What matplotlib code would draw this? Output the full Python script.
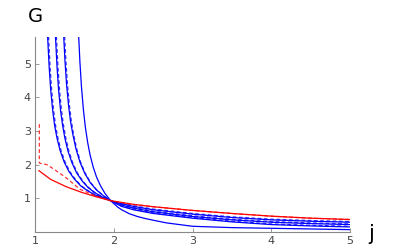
import matplotlib
matplotlib.use("Agg")
import matplotlib.pyplot as plt

# ---- data ----
red_x = [1.05, 1.2, 1.4, 1.6, 1.8, 1.96, 2.25, 2.5, 3.0, 3.5, 4.0, 4.5, 5.0]
red_y = [1.82, 1.56, 1.34, 1.17, 1.03, 0.93, 0.82, 0.75, 0.64, 0.55, 0.47, 0.41, 0.37]

red_dash_x = [1.055, 1.055, 1.08, 1.15, 1.25, 1.40, 1.57, 1.74, 1.90, 1.96, 2.25, 2.5, 3.0, 3.5, 4.0, 4.5, 5.0]
red_dash_y = [3.20, 2.05, 2.03, 2.00, 1.85, 1.60, 1.27, 1.10, 0.97, 0.93, 0.82, 0.75, 0.64, 0.55, 0.47, 0.41, 0.37]

blue1_x = [1.16, 1.18, 1.20, 1.225, 1.25, 1.28, 1.32, 1.37, 1.43, 1.50, 1.58, 1.67, 1.77, 1.87, 1.96,
           2.1, 2.25, 2.5, 3.0, 3.5, 4.0, 4.5, 5.0]
blue1_y = [5.80, 4.89, 4.20, 3.60, 3.15, 2.78, 2.41, 2.08, 1.80, 1.57, 1.37, 1.22, 1.09, 1.00, 0.93,
           0.84, 0.76, 0.66, 0.53, 0.43, 0.36, 0.32, 0.29]

blue2_x = [1.26, 1.28, 1.30, 1.325, 1.35, 1.38, 1.42, 1.47, 1.53, 1.60, 1.67, 1.75, 1.85, 1.96,
           2.1, 2.25, 2.5, 3.0, 3.5, 4.0, 4.5, 5.0]
blue2_y = [5.80, 4.89, 4.20, 3.60, 3.17, 2.78, 2.39, 2.05, 1.75, 1.51, 1.33, 1.18, 1.04, 0.93,
           0.80, 0.71, 0.60, 0.46, 0.36, 0.29, 0.25, 0.22]

blue3_x = [1.365, 1.38, 1.40, 1.425, 1.45, 1.48, 1.52, 1.57, 1.63, 1.70, 1.78, 1.87, 1.96,
           2.1, 2.25, 2.5, 3.0, 3.5, 4.0, 4.5, 5.0]
blue3_y = [5.80, 5.10, 4.40, 3.78, 3.30, 2.90, 2.47, 2.08, 1.75, 1.47, 1.25, 1.07, 0.93,
           0.76, 0.66, 0.55, 0.41, 0.30, 0.22, 0.18, 0.15]

blue4_x = [1.555, 1.57, 1.59, 1.615, 1.64, 1.67, 1.70, 1.74, 1.78, 1.83, 1.89, 1.96,
           2.05, 2.1, 2.2, 2.3, 2.4, 2.5, 2.67, 3.0, 3.5, 4.0, 4.5, 5.0]
blue4_y = [5.80, 5.06, 4.31, 3.62, 3.10, 2.64, 2.28, 1.92, 1.64, 1.38, 1.14, 0.93,
           0.74, 0.66, 0.54, 0.46, 0.40, 0.35, 0.27, 0.17, 0.13, 0.11, 0.09, 0.07]

bdash1_x = [1.172, 1.192, 1.212, 1.237, 1.262, 1.292, 1.332, 1.382, 1.44, 1.51, 1.588, 1.676, 1.774, 1.872, 1.96,
            2.1, 2.25, 2.5, 3.0, 3.5, 4.0, 4.5, 5.0]
bdash1_y = [5.80, 4.89, 4.20, 3.60, 3.15, 2.78, 2.41, 2.08, 1.80, 1.57, 1.37, 1.22, 1.09, 1.00, 0.93,
            0.85, 0.78, 0.68, 0.55, 0.45, 0.38, 0.34, 0.31]

bdash2_x = [1.272, 1.292, 1.312, 1.337, 1.362, 1.392, 1.431, 1.48, 1.539, 1.608, 1.676, 1.754, 1.852, 1.96,
            2.1, 2.25, 2.5, 3.0, 3.5, 4.0, 4.5, 5.0]
bdash2_y = [5.80, 4.89, 4.20, 3.60, 3.17, 2.78, 2.39, 2.05, 1.75, 1.51, 1.33, 1.18, 1.04, 0.93,
            0.81, 0.73, 0.62, 0.48, 0.38, 0.31, 0.27, 0.24]

bdash3_x = [1.377, 1.392, 1.412, 1.436, 1.461, 1.49, 1.529, 1.578, 1.637, 1.705, 1.784, 1.872, 1.96,
            2.1, 2.25, 2.5, 3.0, 3.5, 4.0, 4.5, 5.0]
bdash3_y = [5.80, 5.10, 4.40, 3.78, 3.30, 2.90, 2.47, 2.08, 1.75, 1.47, 1.25, 1.07, 0.93,
            0.77, 0.68, 0.57, 0.43, 0.32, 0.24, 0.20, 0.17]

xticks = [1, 2, 3, 4, 5]
yticks = [1, 2, 3, 4, 5]
xlabel = "j"
ylabel = "G"

# ---- figure ----
fig = plt.figure(figsize=(4.03, 2.49), dpi=100)
ax = fig.add_axes([35 / 403, 17 / 249, 315 / 403, 195 / 249])

lw = 0.9
blue = (0, 0, 1)
red = (1, 0, 0)
for xs, ys in [(blue1_x, blue1_y), (blue2_x, blue2_y), (blue3_x, blue3_y), (blue4_x, blue4_y)]:
    ax.plot(xs, ys, color=blue, lw=lw)
for xs, ys in [(bdash1_x, bdash1_y), (bdash2_x, bdash2_y), (bdash3_x, bdash3_y)]:
    ax.plot(xs, ys, color=blue, lw=lw, ls=(0, (3, 2)), alpha=0.8)
ax.plot(red_x, red_y, color=red, lw=lw)
ax.plot(red_dash_x, red_dash_y, color=red, lw=lw, ls=(0, (3, 2)), alpha=0.8)

ax.set_xlim(1, 5)
ax.set_ylim(0, 195 / 33.7)
ax.set_xticks(xticks)
ax.set_yticks(yticks)
ax.set_xticklabels([str(t) for t in xticks])
ax.set_yticklabels([str(t) for t in yticks])

for s in ["top", "right"]:
    ax.spines[s].set_visible(False)
for s in ["left", "bottom"]:
    ax.spines[s].set_color("#888888")
    ax.spines[s].set_linewidth(0.8)
ax.tick_params(direction="in", length=3, width=0.6, color="#888888",
               labelsize=8, labelcolor="#444444", pad=3)

fig.text(35 / 403, 1 - 17 / 249, ylabel, fontsize=14, ha="center", va="center", color="black")
fig.text(371 / 403, 1 - 234 / 249, xlabel, fontsize=15, ha="center", va="center", color="black")

fig.savefig("out.png", dpi=100)
